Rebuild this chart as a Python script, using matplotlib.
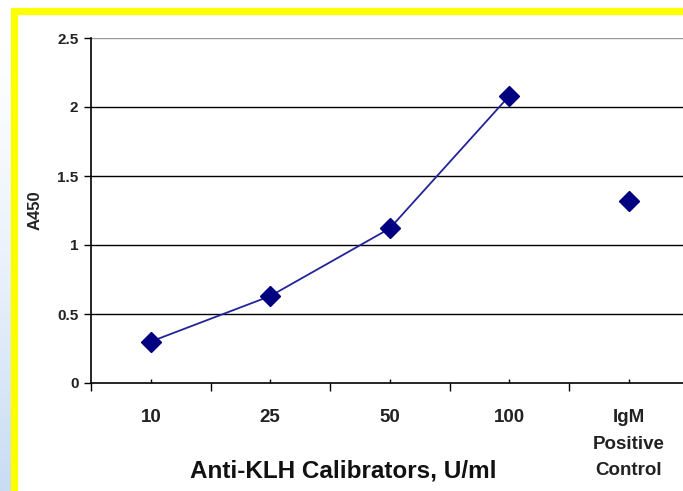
import matplotlib
matplotlib.use("Agg")
import matplotlib.pyplot as plt
import numpy as np
from matplotlib.patches import Rectangle

# data
categories = ["10", "25", "50", "100", "IgM\nPositive\nControl"]
calib_vals = [0.30, 0.63, 1.12, 2.08]
control_val = 1.32

W, H = 683, 491
fig = plt.figure(figsize=(W / 100, H / 100), dpi=100)
fig.patch.set_facecolor("white")

# light blue fade on left edge
bg = fig.add_axes([0, 0, 1, 1], zorder=0)
bg.set_xlim(0, W)
bg.set_ylim(H, 0)
bg.axis("off")
grad = np.linspace(0, 1, 200).reshape(-1, 1) ** 1.5
cmap = matplotlib.colors.LinearSegmentedColormap.from_list("fade", ["#ffffff", "#c8dcf4"])
bg.imshow(grad, cmap=cmap, extent=[0, 14, H, 0], aspect="auto")
bg.add_patch(Rectangle((14, 10.5), W, H, facecolor="white", edgecolor="#ffff00", lw=5.2))

# axes: categories at -0.5..4.5 run past the right edge
x0, x1 = 91, 688.5
y0, y1 = 383, 38
ax = fig.add_axes([x0 / W, 1 - y0 / H, (x1 - x0) / W, (y0 - y1) / H], zorder=1)
ax.patch.set_alpha(0)

xs = np.arange(len(categories))
ax.plot(xs[:4], calib_vals, color="#23239a", lw=1.3, marker="D", ms=10.5,
        mfc="#000080", mec="#000080", zorder=3)
ax.plot(xs[4], control_val, linestyle="none", marker="D", ms=10.5,
        mfc="#000080", mec="#000080", zorder=3)

ax.set_xlim(-0.5, 4.5)
ax.set_ylim(0, 2.5)
ax.set_yticks([0, 0.5, 1, 1.5, 2, 2.5])
ax.set_yticklabels(["0", "0.5", "1", "1.5", "2", "2.5"])
for v in [0.5, 1, 1.5, 2]:
    ax.axhline(v, color="black", lw=1.0, zorder=1)
ax.axhline(2.5, color="#999999", lw=1.0, zorder=1)

ax.set_xticks(np.arange(-0.5, 5, 1))
ax.set_xticklabels([])
ax.set_xticks(xs, minor=True)
ax.set_xticklabels(categories, minor=True, fontsize=13.5, fontweight="bold",
                   family="Liberation Sans", color="#222222", linespacing=1.72, va="top")
ax.tick_params(axis="x", which="major", direction="out", length=6, width=1)
ax.tick_params(axis="x", which="minor", direction="in", length=3, width=1, pad=19)
ax.tick_params(axis="y", direction="out", length=5, width=1, labelsize=11, pad=4)
for lab in ax.get_yticklabels():
    lab.set_fontweight("bold")
    lab.set_family("Liberation Sans")
    lab.set_color("#222222")

for s in ["top", "right"]:
    ax.spines[s].set_visible(False)
for s in ["left", "bottom"]:
    ax.spines[s].set_linewidth(1.2)

fig.text(35 / W, 1 - 210 / H, "A450", rotation=90, ha="center", va="center",
         fontsize=12, fontweight="bold", family="Liberation Sans", color="#222222")
fig.text(343 / W, 1 - 471 / H, "Anti-KLH Calibrators, U/ml", ha="center", va="center",
         fontsize=17.5, fontweight="bold", family="Liberation Sans", color="#111111")

fig.savefig("out.png", dpi=100)
